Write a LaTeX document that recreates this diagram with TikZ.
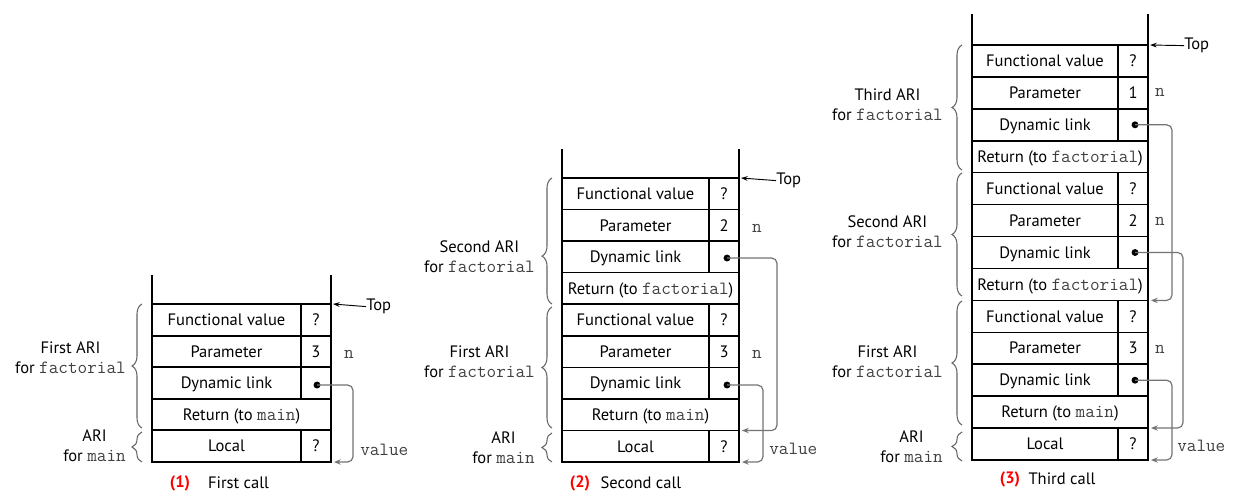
\documentclass[tikz,border=0pt]{standalone}
\usepackage{fontspec}
\setmainfont{PT Sans}
\setsansfont{PT Sans}
\usetikzlibrary{decorations.pathreplacing,arrows.meta}
\newcommand\mtt[1]{{\ttfamily\fontsize{14}{15}\selectfont\color{black!75}#1}}
\begin{document}
\begin{tikzpicture}[x=0.75pt,y=-0.75pt,
  cellbox/.style={draw=black,line width=1.1pt},
  lbl/.style={font=\fontsize{12.4}{15}\selectfont, inner sep=0pt, text height=1.5ex, text depth=0.25ex, yshift=-1.2pt},
  arilbl/.style={font=\fontsize{12.4}{15}\selectfont, align=center, anchor=east, inner sep=0pt},
  dotnode/.style={circle, fill=black, inner sep=0pt, minimum size=5.2pt},
  link/.style={draw=black!55, line width=0.9pt, rounded corners=4pt, -{Stealth[length=5pt,width=4pt]}},
  brc/.style={draw=black!60, line width=0.8pt, decorate, decoration={brace,amplitude=7.5pt}},
  toparrow/.style={draw=black, line width=0.7pt, -{Stealth[length=5pt,width=3.5pt]}},
  capnum/.style={font=\fontsize{12.4}{15}\selectfont\bfseries, text=red, inner sep=0pt},
  captxt/.style={font=\fontsize{12.4}{15}\selectfont, inner sep=0pt},
]
\useasboundingbox (0,0) rectangle (1241,501);

%% ---------------- Stack 1 ----------------
\draw[cellbox] (152,275) -- (152,462) -- (331,462) -- (331,275);
\foreach \y in {304,336,367,399,430} \draw[cellbox] (152,\y) -- (331,\y);
\draw[cellbox] (301,304) -- (301,399);
\draw[cellbox] (301,430) -- (301,462);
\node[lbl] (s1fv) at (226.5,320) {Functional value};
\node[lbl] (s1fvv) at (316,320) {?};
\node[lbl] (s1p) at (226.5,351.5) {Parameter};
\node[lbl] (s1pv) at (316,351.5) {3};
\node[lbl] (s1dl) at (226.5,383) {Dynamic link};
\node[dotnode] (s1d) at (317,385) {};
\node[lbl] (s1r) at (241.5,414.5) {Return (to \mtt{main})};
\node[lbl] (s1l) at (226.5,446) {Local};
\node[lbl] (s1lv) at (316,446) {?};
\node[lbl] (s1n) at (349,353) {\mtt{n}};
\node[lbl,anchor=west] (s1v) at (360,450) {\mtt{value}};
\node[lbl,anchor=west] (s1top) at (366,305) {Top};
\coordinate (s1tp) at (333,304);
\draw[toparrow] (s1top.west) -- (s1tp);
\coordinate (s1k) at (353,462);
\coordinate (s1e) at (334,462);
\draw[link] (s1d.center) -| (s1k) -- (s1e);
\draw[brc] (142,428) -- (142,304);
\draw[brc] (142,462) -- (142,432);
\node[arilbl] (s1a) at (126,358) {First ARI\\for \mtt{factorial}};
\node[arilbl] (s1m) at (126,446) {ARI\\for \mtt{main}};
\node[capnum] (s1cn) at (180,483) {(1)};
\node[captxt] (s1ct) at (238.5,483) {First call};

%% ---------------- Stack 2 ----------------
\draw[cellbox] (562,149) -- (562,462) -- (739,462) -- (739,149);
\foreach \y in {178,209.6,241.1,272.7,304.2,335.8,367.4,398.9,430.5} \draw[cellbox] (562,\y) -- (739,\y);
\draw[cellbox] (709,178) -- (709,272.7);
\draw[cellbox] (709,304.2) -- (709,398.9);
\draw[cellbox] (709,430.5) -- (709,462);
\node[lbl] (s2fv1) at (635.5,193.8) {Functional value};
\node[lbl] (s2fv1v) at (724,193.8) {?};
\node[lbl] (s2p1) at (635.5,225.4) {Parameter};
\node[lbl] (s2p1v) at (724,225.4) {2};
\node[lbl] (s2dl1) at (635.5,256.9) {Dynamic link};
\node[dotnode] (s2d1) at (727,258) {};
\node[lbl] (s2r1) at (650.5,288.5) {Return (to \mtt{factorial})};
\node[lbl] (s2fv2) at (635.5,320) {Functional value};
\node[lbl] (s2fv2v) at (724,320) {?};
\node[lbl] (s2p2) at (635.5,351.6) {Parameter};
\node[lbl] (s2p2v) at (724,351.6) {3};
\node[lbl] (s2dl2) at (635.5,383.2) {Dynamic link};
\node[dotnode] (s2d2) at (727,385) {};
\node[lbl] (s2r2) at (650.5,414.7) {Return (to \mtt{main})};
\node[lbl] (s2l) at (635.5,446.3) {Local};
\node[lbl] (s2lv) at (724,446.3) {?};
\node[lbl] (s2n1) at (757,227) {\mtt{n}};
\node[lbl] (s2n2) at (757,353) {\mtt{n}};
\node[lbl,anchor=west] (s2v) at (769,449) {\mtt{value}};
\node[lbl,anchor=west] (s2top) at (776,179) {Top};
\coordinate (s2tp) at (741,178);
\draw[toparrow] (s2top.west) -- (s2tp);
\coordinate (s2k1) at (777,430.5);
\coordinate (s2e1) at (742,430.5);
\draw[link] (s2d1.center) -| (s2k1) -- (s2e1);
\coordinate (s2k2) at (763,462);
\coordinate (s2e2) at (742,462);
\draw[link] (s2d2.center) -| (s2k2) -- (s2e2);
\draw[brc,decoration={aspect=0.38}] (552,304) -- (552,178);
\draw[brc] (552,428) -- (552,307);
\draw[brc] (552,462) -- (552,433);
\node[arilbl] (s2a2) at (535,256.5) {Second ARI\\for \mtt{factorial}};
\node[arilbl] (s2a1) at (535,362) {First ARI\\for \mtt{factorial}};
\node[arilbl] (s2m) at (535,448) {ARI\\for \mtt{main}};
\node[capnum] (s2cn) at (580,483) {(2)};
\node[captxt] (s2ct) at (641,483) {Second call};

%% ---------------- Stack 3 ----------------
\draw[cellbox] (972,14) -- (972,460) -- (1148,460) -- (1148,14);
\foreach \y in {45,76.9,108.8,140.8,172.7,204.6,236.5,268.4,300.4,332.3,364.2,396.1,428} \draw[cellbox] (972,\y) -- (1148,\y);
\draw[cellbox] (1118,45) -- (1118,140.8);
\draw[cellbox] (1118,172.7) -- (1118,268.4);
\draw[cellbox] (1118,300.4) -- (1118,396.1);
\draw[cellbox] (1118,428) -- (1118,460);
\node[lbl] (s3fv1) at (1045,61) {Functional value};
\node[lbl] (s3fv1v) at (1133,61) {?};
\node[lbl] (s3p1) at (1045,92.9) {Parameter};
\node[lbl] (s3p1v) at (1133,92.9) {1};
\node[lbl] (s3dl1) at (1045,124.8) {Dynamic link};
\node[dotnode] (s3d1) at (1135,124.8) {};
\node[lbl] (s3r1) at (1060,156.7) {Return (to \mtt{factorial})};
\node[lbl] (s3fv2) at (1045,188.6) {Functional value};
\node[lbl] (s3fv2v) at (1133,188.6) {?};
\node[lbl] (s3p2) at (1045,220.5) {Parameter};
\node[lbl] (s3p2v) at (1133,220.5) {2};
\node[lbl] (s3dl2) at (1045,252.5) {Dynamic link};
\node[dotnode] (s3d2) at (1135,252.5) {};
\node[lbl] (s3r2) at (1060,284.4) {Return (to \mtt{factorial})};
\node[lbl] (s3fv3) at (1045,316.3) {Functional value};
\node[lbl] (s3fv3v) at (1133,316.3) {?};
\node[lbl] (s3p3) at (1045,348.2) {Parameter};
\node[lbl] (s3p3v) at (1133,348.2) {3};
\node[lbl] (s3dl3) at (1045,380.2) {Dynamic link};
\node[dotnode] (s3d3) at (1135,380.2) {};
\node[lbl] (s3r3) at (1060,412) {Return (to \mtt{main})};
\node[lbl] (s3l) at (1045,444) {Local};
\node[lbl] (s3lv) at (1133,444) {?};
\node[lbl] (s3n1) at (1160,91) {\mtt{n}};
\node[lbl] (s3n2) at (1160,220) {\mtt{n}};
\node[lbl] (s3n3) at (1160,348) {\mtt{n}};
\node[lbl,anchor=west] (s3v) at (1177,446) {\mtt{value}};
\node[lbl,anchor=west] (s3top) at (1184,44) {Top};
\coordinate (s3tp) at (1150,45);
\draw[toparrow] (s3top.west) -- (s3tp);
\coordinate (s3k1) at (1172,300.4);
\coordinate (s3e1) at (1151,300.4);
\draw[link] (s3d1.center) -| (s3k1) -- (s3e1);
\coordinate (s3k2) at (1183,428);
\coordinate (s3e2) at (1151,428);
\draw[link] (s3d2.center) -| (s3k2) -- (s3e2);
\coordinate (s3k3) at (1172,460);
\coordinate (s3e3) at (1151,460);
\draw[link] (s3d3.center) -| (s3k3) -- (s3e3);
\draw[brc] (962,170) -- (962,45);
\draw[brc] (962,296) -- (962,173);
\draw[brc] (962,425) -- (962,301);
\draw[brc] (962,461) -- (962,432);
\node[arilbl] (s3a3) at (943,105) {Third ARI\\for \mtt{factorial}};
\node[arilbl] (s3a2) at (943,232) {Second ARI\\for \mtt{factorial}};
\node[arilbl] (s3a1) at (943,362) {First ARI\\for \mtt{factorial}};
\node[arilbl] (s3m) at (943,447) {ARI\\for \mtt{main}};
\node[capnum] (s3cn) at (1010,479) {(3)};
\node[captxt] (s3ct) at (1062,479) {Third call};
\end{tikzpicture}
\end{document}
